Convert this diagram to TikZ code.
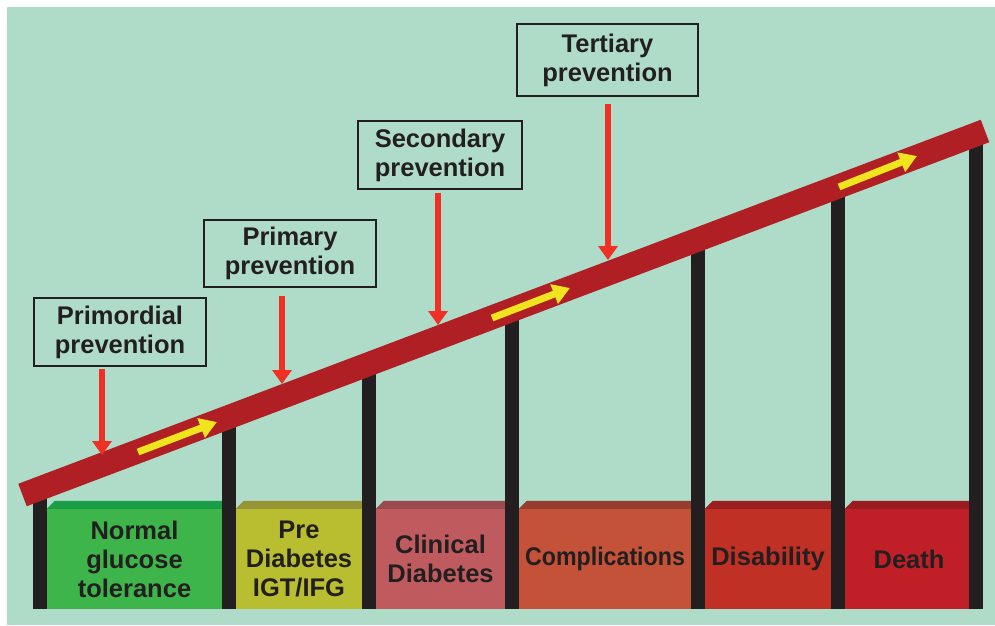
\documentclass[tikz,border=0pt]{standalone}
\usepackage{fontspec}
\setmainfont{Liberation Sans}
\usetikzlibrary{arrows.meta,calc}

\definecolor{bgmint}{HTML}{AEDCC9}
\definecolor{ink}{HTML}{231F20}
\definecolor{barred}{HTML}{B01F24}
\definecolor{cured}{HTML}{EE3124}
\definecolor{flowy}{HTML}{EFE41D}
\definecolor{stageA}{HTML}{3DB54A}
\definecolor{stageAtop}{HTML}{1B9D48}
\definecolor{stageB}{HTML}{B9BE31}
\definecolor{stageBtop}{HTML}{969434}
\definecolor{stageC}{HTML}{BF5B5E}
\definecolor{stageCtop}{HTML}{9A4A4F}
\definecolor{stageD}{HTML}{C35238}
\definecolor{stageDtop}{HTML}{953D2F}
\definecolor{stageE}{HTML}{C03024}
\definecolor{stageEtop}{HTML}{9A1F20}
\definecolor{stageF}{HTML}{C11F27}
\definecolor{stageFtop}{HTML}{9A1C20}

\begin{document}
\begin{tikzpicture}[x=1pt, y=-1pt,
    txt/.style={font=\bfseries\fontsize{25.5}{29}\selectfont, text=ink, align=center},
    prevbox/.style={txt, draw=ink, line width=2.5pt, inner sep=0pt,
        execute at begin node={\rule{0pt}{24.6pt}}},
    stage/.style={txt, inner sep=0pt, minimum height=100pt},
    pillar/.style={draw=ink, line width=14pt},
    cure/.style={draw=cured, line width=6pt, -{Triangle[width=19pt,length=14pt]}},
    flow/.style={draw=flowy, line width=7pt, -{Triangle[width=20pt,length=17pt]}}]
                    \def\slope{0.378} % rise of the bar per unit of run
                    \useasboundingbox (0,0) rectangle (995,625);
                    \fill[white] (0,0) rectangle (995,625);
                    \fill[bgmint] (7,7) rectangle (995,625);

                    \foreach \stg/\cx/\bw/\fc/\tc/\lbl in {
                        normal/134.5/175/stageA/stageAtop/{Normal\\glucose\\tolerance},
                        pre/299/126/stageB/stageBtop/{Pre\\Diabetes\\IGT/IFG},
                        clinical/440.5/129/stageC/stageCtop/{Clinical\\Diabetes},
                        compl/605/172/stageD/stageDtop/{\scalebox{0.91}[1]{Complications}},
                        disab/768/126/stageE/stageEtop/{Disability},
                        death/909/128/stageF/stageFtop/{Death}}
                    {
                        \node[stage, fill=\fc, minimum width=\bw pt] (\stg) at (\cx, 559) {\lbl};
                        \fill[\tc] (\stg.north west) -- ++(8,-8)
                            -- ([yshift=8pt]\stg.north east) -- (\stg.north east) -- cycle;
                    }

                    \foreach \px in {40, 229, 369, 512, 698, 838, 976}
                    \draw[pillar] (\px, 609) -- (\px, {495-(\px-22.5)*\slope});

                    \coordinate (barL) at (22.5, 495);
                    \coordinate (barR) at (985, 131);
                    \draw[draw=barred, line width=24pt] (barL) -- (barR);

                    \draw[flow] (138, 452) -- (217, 422);
                    \draw[flow] (492, 318) -- (570, 288);
                    \draw[flow] (839, 187) -- (917, 156);

                    \node[prevbox, minimum width=172pt, minimum height=68pt] (primordial) at (120, 332) {Primordial\\prevention};
                    \node[prevbox, minimum width=172pt, minimum height=67pt] (primary) at (290, 253.5) {Primary\\prevention};
                    \node[prevbox, minimum width=164pt, minimum height=68pt] (secondary) at (440, 155) {Secondary\\prevention};
                    \node[prevbox, minimum width=181pt, minimum height=72pt] (tertiary) at (607.5, 60) {Tertiary\\prevention};

                    \coordinate (hit1) at (102, 455);
                    \coordinate (hit2) at (282, 384);
                    \coordinate (hit3) at (438, 325);
                    \coordinate (hit4) at (608, 260);

                    \draw[cure, shorten <=1.5pt] (primordial.south -| hit1) -- (hit1);
                    \draw[cure, shorten <=8pt] (primary.south -| hit2) -- (hit2);
                    \draw[cure, shorten <=3pt] (secondary.south -| hit3) -- (hit3);
                    \draw[cure, shorten <=7pt] (tertiary.south -| hit4) -- (hit4);
                \end{tikzpicture}
\end{document}
